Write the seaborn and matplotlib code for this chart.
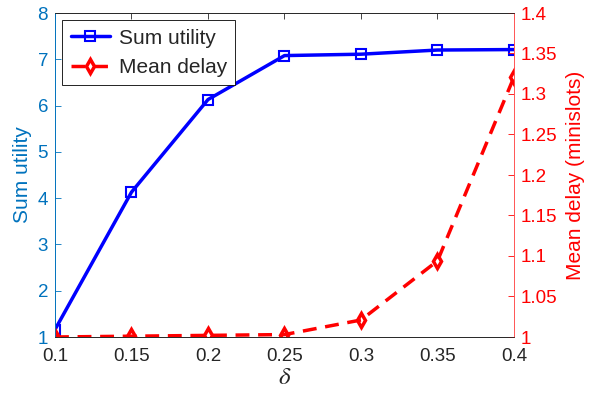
import matplotlib
matplotlib.use("Agg")
import matplotlib.pyplot as plt
import seaborn as sns
import pandas as pd

delta = [0.1, 0.15, 0.2, 0.25, 0.3, 0.35, 0.4]
sum_utility = [1.16, 4.13, 6.13, 7.08, 7.11, 7.20, 7.21]
mean_delay = [1.0, 1.001, 1.002, 1.003, 1.021, 1.094, 1.321]
xticks = [0.1, 0.15, 0.2, 0.25, 0.3, 0.35, 0.4]

sns.set_style("white")
plt.rcParams['font.family'] = ['Liberation Sans', 'DejaVu Sans']
plt.rcParams['mathtext.fontset'] = 'stix'

df = pd.DataFrame({"delta": delta, "util": sum_utility, "delay": mean_delay})

blue_ax = (0, 114/255, 189/255)
fig = plt.figure(figsize=(5.89, 3.96), dpi=100)
ax = fig.add_axes([55/589, 59/396, (514-55)/589, (337-13)/396])
ax2 = ax.twinx()

sns.lineplot(data=df, x="delta", y="util", ax=ax, color="blue", lw=2.5,
             marker="s", markersize=6.5, markerfacecolor="none",
             markeredgecolor="blue", markeredgewidth=1.5, label="Sum utility", legend=False)
sns.lineplot(data=df, x="delta", y="delay", ax=ax2, color="red", lw=2.5,
             linestyle="--", marker="d", markersize=7, markerfacecolor="none",
             markeredgecolor="red", markeredgewidth=2.5, label="Mean delay", legend=False)
ax2.lines[0].set_dashes([4, 2.5])

ax.set_xlim(0.1, 0.4)
ax.set_ylim(1, 8)
ax2.set_ylim(1, 1.4)
ax.set_xticks(xticks)
ax.set_xticklabels([f"{v:g}" for v in xticks])
ax.set_yticks(range(1, 9))
ax2.set_yticks([1, 1.05, 1.1, 1.15, 1.2, 1.25, 1.3, 1.35, 1.4])
ax2.set_yticklabels(["1", "1.05", "1.1", "1.15", "1.2", "1.25", "1.3", "1.35", "1.4"])

ax.set_xlabel(r"$\delta$", fontsize=18, labelpad=0)
ax.set_ylabel("Sum utility", fontsize=15, color=blue_ax, labelpad=4)
ax2.set_ylabel("Mean delay (minislots)", fontsize=15, color="red", labelpad=6)

for a in (ax, ax2):
    for s in a.spines.values():
        s.set_linewidth(0.6)
        s.set_color("#262626")
ax.spines["left"].set_color(blue_ax)
ax2.spines["left"].set_color(blue_ax)
ax2.spines["right"].set_color("#ff5555")
ax.spines["right"].set_color("#ff5555")

ax.tick_params(axis="x", direction="in", labelsize=13.5, colors="#262626", length=4, width=0.6, top=True, pad=8)
ax.tick_params(axis="y", direction="in", labelsize=13.5, colors=blue_ax, length=4, width=0.6, pad=5)
ax2.tick_params(axis="y", direction="in", labelsize=13.5, colors="red", length=4, width=0.6, pad=5)

h1, l1 = ax.get_legend_handles_labels()
h2, l2 = ax2.get_legend_handles_labels()
leg = ax2.legend(h1 + h2, l1 + l2, loc="upper left", fontsize=15, frameon=True,
                 fancybox=False, edgecolor="black", framealpha=1,
                 borderaxespad=0.35, handlelength=1.9, borderpad=0.4, labelspacing=0.5,
                 handletextpad=0.4)
leg.get_frame().set_linewidth(0.6)

fig.savefig("out.png", dpi=100)
